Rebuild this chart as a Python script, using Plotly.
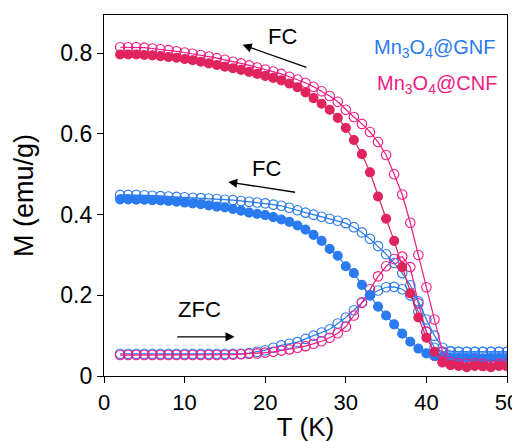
import plotly.graph_objects as go

T = list(range(2, 51))

cnf_fc_filled = [0.797,0.797,0.797,0.796,0.795,0.793,0.791,0.789,0.786,0.783,0.779,0.775,0.771,0.767,0.763,0.759,0.754,0.749,0.744,0.739,0.733,0.725,0.716,0.703,0.689,0.675,0.66,0.64,0.615,0.585,0.55,0.505,0.445,0.39,0.335,0.27,0.205,0.145,0.095,0.06,0.035,0.027,0.025,0.022,0.025,0.024,0.022,0.025,0.024]
cnf_fc_open = [0.815,0.815,0.815,0.814,0.812,0.81,0.808,0.805,0.802,0.799,0.796,0.792,0.788,0.784,0.779,0.775,0.77,0.765,0.76,0.755,0.749,0.742,0.735,0.727,0.717,0.706,0.694,0.68,0.66,0.642,0.625,0.605,0.58,0.548,0.5,0.45,0.38,0.30,0.22,0.14,0.06,0.035,0.032,0.03,0.032,0.03,0.028,0.03,0.03]
cnf_zfc_open = [0.052,0.052,0.052,0.052,0.052,0.052,0.052,0.052,0.052,0.052,0.052,0.052,0.052,0.052,0.053,0.054,0.055,0.056,0.058,0.06,0.063,0.066,0.07,0.074,0.08,0.086,0.095,0.106,0.122,0.15,0.182,0.215,0.247,0.272,0.29,0.296,0.27,0.18,0.11,0.05,0.034,0.032,0.03,0.031,0.03,0.03,0.031,0.03,0.03]
gnf_fc_open = [0.449,0.449,0.449,0.448,0.447,0.446,0.445,0.444,0.443,0.442,0.441,0.44,0.439,0.437,0.436,0.434,0.432,0.43,0.428,0.425,0.422,0.417,0.411,0.405,0.4,0.395,0.39,0.385,0.379,0.369,0.356,0.34,0.322,0.302,0.28,0.255,0.225,0.185,0.14,0.1,0.07,0.062,0.06,0.06,0.06,0.06,0.06,0.06,0.06]
gnf_fc_filled = [0.438,0.438,0.437,0.437,0.436,0.435,0.434,0.432,0.43,0.428,0.426,0.423,0.42,0.418,0.414,0.41,0.405,0.402,0.399,0.394,0.388,0.382,0.373,0.363,0.35,0.335,0.315,0.298,0.272,0.255,0.226,0.2,0.172,0.15,0.128,0.105,0.085,0.068,0.056,0.05,0.047,0.046,0.045,0.045,0.045,0.044,0.045,0.045,0.045]
gnf_zfc_open = [0.055,0.055,0.055,0.055,0.055,0.055,0.055,0.055,0.055,0.055,0.055,0.055,0.055,0.055,0.055,0.055,0.057,0.06,0.064,0.07,0.076,0.08,0.084,0.092,0.1,0.108,0.116,0.13,0.145,0.163,0.182,0.2,0.212,0.22,0.221,0.215,0.2,0.16,0.11,0.07,0.06,0.06,0.06,0.06,0.06,0.06,0.06,0.06,0.06]

BLUE = "#2A7AF0"
RED = "#E0245E"
PINK = "#F01A82"
FONT = "Liberation Sans, Arial, sans-serif"

fig = go.Figure()

def add(y, color, filled):
    fig.add_trace(go.Scatter(
        x=T, y=y, mode="lines+markers",
        line=dict(color=color, width=1.2),
        marker=dict(symbol="circle" if filled else "circle-open", size=9 if filled else 9.5,
                    color=color, line=dict(color=color, width=1.1)),
        showlegend=False, hoverinfo="skip"))

add(gnf_zfc_open, BLUE, False)
add(cnf_zfc_open, PINK, False)
add(gnf_fc_open, BLUE, False)
add(gnf_fc_filled, BLUE, True)
add(cnf_fc_open, PINK, False)
add(cnf_fc_filled, RED, True)

ann = []
def arrow(x0, y0, x1, y1):
    ann.append(dict(x=x1, y=y1, ax=x0, ay=y0, xref="x", yref="y", axref="x", ayref="y",
                    showarrow=True, arrowhead=2, arrowsize=1.4, arrowwidth=1.3, arrowcolor="black", text=""))
def label(x, y, text, color="black", size=22):
    ann.append(dict(x=x, y=y, xref="x", yref="y", text=text, showarrow=False,
                    font=dict(family=FONT, size=size, color=color)))

arrow(25.3, 0.764, 17.2, 0.821)
label(22.2, 0.841, "FC")
arrow(23.9, 0.455, 15.4, 0.481)
label(20.2, 0.514, "FC")
arrow(8.9, 0.097, 16.2, 0.097)
label(11.8, 0.164, "ZFC")
label(41.0, 0.812, "Mn<sub>3</sub>O<sub>4</sub>@GNF", BLUE, 20)
label(41.3, 0.722, "Mn<sub>3</sub>O<sub>4</sub>@CNF", PINK, 20)

# page body has an 8px default margin, so the figure is sized to fill the rest of the window
fig.update_layout(
    width=512, height=434,
    margin=dict(l=96, r=13, t=7, b=66),
    paper_bgcolor="white", plot_bgcolor="white",
    font=dict(family=FONT, size=23, color="black"),
    annotations=ann,
    xaxis=dict(range=[0, 50], tickvals=[0,10,20,30,40,50], ticks="outside", ticklen=6,
               tickwidth=1.2, tickcolor="black", showline=True, linecolor="black", linewidth=1.2,
               mirror=True, showgrid=False, zeroline=False, automargin=False,
               tickfont=dict(size=22),
               title=dict(text="T (K)", font=dict(size=26), standoff=4)),
    yaxis=dict(range=[0, 0.895], tickvals=[0,0.2,0.4,0.6,0.8], ticktext=["0","0.2","0.4","0.6","0.8"],
               ticks="outside", ticklen=6, tickwidth=1.2, tickcolor="black",
               showline=True, linecolor="black", linewidth=1.2, mirror=True,
               showgrid=False, zeroline=False, automargin=False,
               title=dict(text="M (emu/g)", font=dict(size=27), standoff=18)),
)

fig.write_html("out.html")
